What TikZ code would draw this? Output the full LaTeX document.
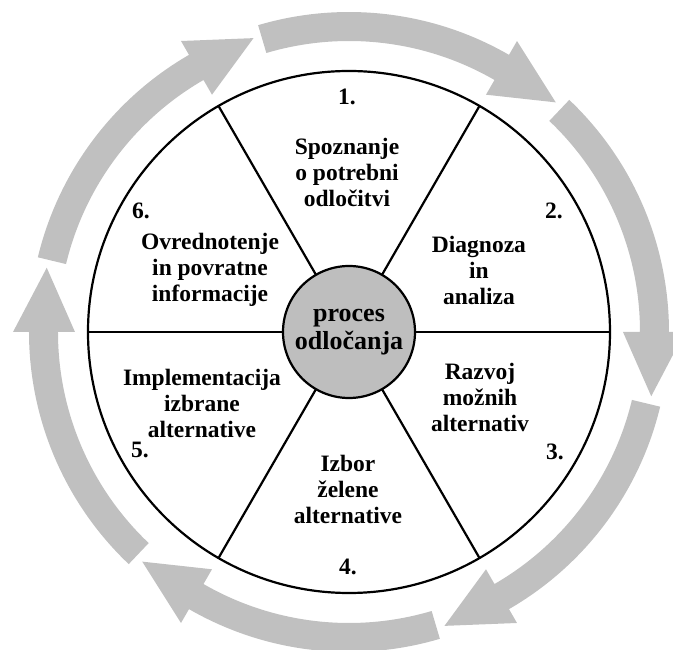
\documentclass[tikz,border=0pt]{standalone}
\usepackage{fontspec}
\setmainfont{Liberation Serif}
\begin{document}
\begin{tikzpicture}[x=1pt,y=1pt,
  ringline/.style={line width=2.2pt, black},
  steptext/.style={font=\fontsize{23.5}{26}\selectfont\bfseries, align=center, inner sep=0pt},
  stepnum/.style={font=\fontsize{23.5}{26}\selectfont\bfseries, inner sep=0pt},
  cyclearrow/.style={fill=arrowgray}]
\definecolor{arrowgray}{RGB}{192,192,192}
\definecolor{hubgray}{RGB}{190,190,190}
\useasboundingbox (-349,-318) rectangle (324,332);

% six curved arrows running clockwise around the wheel
\foreach \k in {0,...,5}{
  \pgfmathsetmacro{\ta}{106.5-60*\k}
  \pgfmathsetmacro{\ba}{60-60*\k}
  \pgfmathsetmacro{\pa}{48-60*\k}
  \fill[cyclearrow] (\ta:320) arc[start angle=\ta, end angle=\ba, radius=320]
    -- (\ba:336) -- (\pa:309) -- (\ba:274) -- (\ba:291)
    arc[start angle=\ba, end angle=\ta, radius=291] -- cycle;
}

% wheel and hub
\node[circle, ringline, draw, minimum size=522pt, inner sep=0pt, outer sep=0pt] (wheel) at (0,0) {};
\node[circle, ringline, draw, fill=hubgray, minimum size=132pt, inner sep=0pt, outer sep=0pt,
      font=\fontsize{26}{28}\selectfont\bfseries, align=center] (hub) at (0,0) {proces\\odločanja};

% spokes between hub and rim
\foreach \a in {0,60,...,300}{
  \draw[ringline] (hub.\a) -- (wheel.\a);
}

% step numbers
\node[stepnum] (n1) at (-2,235) {1.};
\node[stepnum] (n2) at (205,121) {2.};
\node[stepnum] (n3) at (206,-120) {3.};
\node[stepnum] (n4) at (-1,-235) {4.};
\node[stepnum] (n5) at (-209,-118) {5.};
\node[stepnum] (n6) at (-208,121) {6.};

% step descriptions
\node[steptext] (s1) at (-2,160) {Spoznanje\\o potrebni\\odločitvi};
\node[steptext] (s2) at (130,62) {Diagnoza\\in\\analiza};
\node[steptext] (s3) at (131,-65) {Razvoj\\možnih\\alternativ};
\node[steptext] (s4) at (-1,-157) {Izbor\\želene\\alternative};
\node[steptext] (s5) at (-147,-71) {Implementacija\\izbrane\\alternative};
\node[steptext] (s6) at (-139,62) {Ovrednotenje\\in povratne\\informacije};
\end{tikzpicture}
\end{document}
